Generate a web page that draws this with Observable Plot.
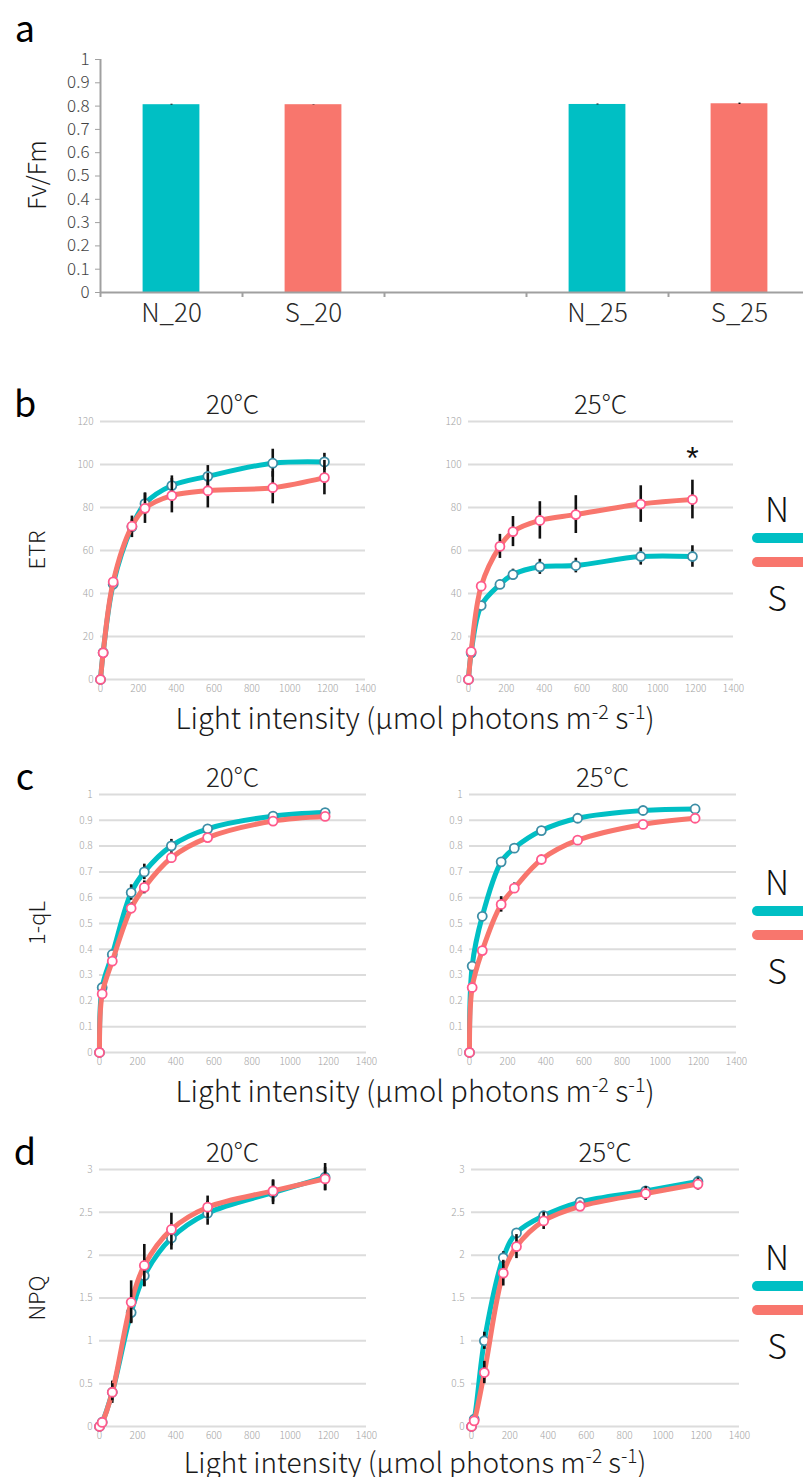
<!DOCTYPE html>
<html><head><meta charset="utf-8">
<script src="https://cdn.jsdelivr.net/npm/d3@7"></script>
<script src="https://cdn.jsdelivr.net/npm/@observablehq/plot@0.6"></script>
<style>
html,body{margin:0;padding:0;background:#fff;overflow:hidden;}
#root{position:relative;width:803px;height:1477px;overflow:hidden;font-family:"Noto Sans CJK JP","Noto Sans",sans-serif;font-weight:300;color:#1a1a1a;}
.lbl{position:absolute;transform:translate(-50%,-50%);white-space:nowrap;line-height:1;}
.rot{transform:translate(-50%,-50%) rotate(-90deg);}
.sw{position:absolute;height:10px;border-radius:5px;width:70px;}
sup.s{font-size:0.68em;vertical-align:0.5em;line-height:0;}
</style></head>
<body><div id="root"></div>
<script>
// ---------- data ----------
const fvCategories = ["N_20", "S_20", "", "N_25", "S_25"];
const fvGroups     = ["N", "S", null, "N", "S"];
const fvValues     = [0.806, 0.806, null, 0.807, 0.810];
const fvErrors     = [0.002, 0.001, null, 0.002, 0.003];
const fvTicks      = [0, 0.1, 0.2, 0.3, 0.4, 0.5, 0.6, 0.7, 0.8, 0.9, 1];

const lightIntensity = [0, 14, 67, 166, 235, 377, 567, 910, 1183];
const xTicks = [0, 200, 400, 600, 800, 1000, 1200, 1400];

const etr20N    = [0, 12.5, 44.3, 71.0, 81.8, 90.2, 94.5, 100.6, 101.2];
const etr20NErr = [0, 0.5, 1, 5, 5, 4.5, 5, 6.5, 4];
const etr20S    = [0, 12.4, 45.4, 71.3, 79.6, 85.5, 87.8, 89.2, 93.9];
const etr20SErr = [0, 0.5, 1, 3, 7, 8, 8, 7.5, 8];
const etr25N    = [0, 12.4, 34.4, 44.2, 48.8, 52.4, 53.0, 57.2, 57.2];
const etr25NErr = [0, 0.5, 1.5, 2, 2.5, 3.5, 3.4, 4, 5];
const etr25S    = [0, 13.0, 43.4, 61.9, 68.8, 74.0, 76.7, 81.6, 83.7];
const etr25SErr = [0, 0.5, 1.5, 5.6, 7, 8.7, 8.8, 8.5, 9];
const etr25Sig  = ["", "", "", "", "", "", "", "", "*"];
const etrTicks  = [0, 20, 40, 60, 80, 100, 120];

const ql20N    = [0, 0.252, 0.380, 0.620, 0.700, 0.801, 0.867, 0.916, 0.930];
const ql20NErr = [0, 0.005, 0.01, 0.03, 0.03, 0.025, 0.012, 0.008, 0.006];
const ql20S    = [0, 0.227, 0.354, 0.559, 0.640, 0.755, 0.833, 0.897, 0.915];
const ql20SErr = [0, 0.005, 0.008, 0.02, 0.025, 0.02, 0.008, 0.006, 0.005];
const ql25N    = [0, 0.335, 0.528, 0.739, 0.792, 0.860, 0.908, 0.938, 0.944];
const ql25NErr = [0, 0.005, 0.008, 0.008, 0.006, 0.005, 0.004, 0.004, 0.004];
const ql25S    = [0, 0.252, 0.395, 0.574, 0.637, 0.748, 0.823, 0.884, 0.908];
const ql25SErr = [0, 0.005, 0.008, 0.03, 0.02, 0.006, 0.005, 0.004, 0.004];
const qlTicks  = [0, 0.1, 0.2, 0.3, 0.4, 0.5, 0.6, 0.7, 0.8, 0.9, 1];

const npq20N    = [0, 0.05, 0.40, 1.33, 1.76, 2.20, 2.49, 2.73, 2.91];
const npq20NErr = [0, 0.01, 0.13, 0.12, 0.13, 0.14, 0.14, 0.14, 0.16];
const npq20S    = [0, 0.047, 0.40, 1.45, 1.88, 2.30, 2.56, 2.75, 2.89];
const npq20SErr = [0, 0.01, 0.10, 0.25, 0.245, 0.19, 0.13, 0.13, 0.135];
const npq25N    = [0, 0.085, 1.00, 1.97, 2.26, 2.46, 2.62, 2.75, 2.86];
const npq25NErr = [0, 0.02, 0.10, 0.07, 0.05, 0.04, 0.03, 0.05, 0.06];
const npq25S    = [0, 0.066, 0.63, 1.79, 2.10, 2.40, 2.57, 2.72, 2.83];
const npq25SErr = [0, 0.02, 0.13, 0.15, 0.14, 0.10, 0.06, 0.08, 0.07];
const npqTicks  = [0, 0.5, 1, 1.5, 2, 2.5, 3];

// ---------- style ----------
const FONT = `"Noto Sans CJK JP","Noto Sans",sans-serif`;
const TEAL = "#00BFC4", SALMON = "#F8766D";
const N_PT = "#3d8ea6", S_PT = "#ff5a8c";
const groupColor = {N: TEAL, S: SALMON};
const root = document.getElementById("root");

function place(svg, left, top) {
  svg.style.position = "absolute";
  svg.style.left = left + "px";
  svg.style.top = top + "px";
  root.appendChild(svg);
}
function label(html, x, y, size, extra = {}) {
  const d = document.createElement("div");
  d.className = "lbl" + (extra.rot ? " rot" : "");
  d.innerHTML = html;
  d.style.left = x + "px"; d.style.top = y + "px";
  d.style.fontSize = size + "px";
  if (extra.weight) d.style.fontWeight = extra.weight;
  if (extra.color) d.style.color = extra.color;
  root.appendChild(d);
}
function swatch(color, x, y) {
  const d = document.createElement("div");
  d.className = "sw";
  d.style.background = color;
  d.style.left = x + "px"; d.style.top = (y - 5) + "px";
  root.appendChild(d);
}

// ---------- panel a ----------
{
  const idx = fvCategories.map((c, i) => i).filter(i => fvValues[i] != null);
  const svg = Plot.plot({
    width: 810, height: 292,
    marginLeft: 100, marginRight: 0, marginTop: 19, marginBottom: 40,
    x: {domain: [0, fvCategories.length]},
    y: {domain: [0, 1]},
    style: {color: "#444", fontFamily: FONT, background: "transparent", overflow: "visible", maxWidth: "none"},
    marks: [
      Plot.rectY(idx, {x1: i => i + 0.3, x2: i => i + 0.7, y1: 0, y2: i => fvValues[i], fill: i => groupColor[fvGroups[i]]}),
      Plot.ruleX(idx, {x: i => i + 0.5, y1: i => fvValues[i] - fvErrors[i], y2: i => fvValues[i] + fvErrors[i], stroke: "#111", strokeWidth: 2}),
      Plot.ruleY([0], {stroke: "#a0a0a0", strokeWidth: 2}),
      Plot.ruleX([0], {stroke: "#a0a0a0", strokeWidth: 2}),
      Plot.axisY({ticks: fvTicks, tickSize: 5, tickPadding: 6, fontSize: 17, stroke: "#a0a0a0", fill: "#444", tickFormat: d => `${d}`, label: null}),
      Plot.axisX({ticks: d3.range(fvCategories.length + 1), tickSize: 5, stroke: "#a0a0a0", strokeWidth: 2, tickFormat: () => "", label: null}),
      Plot.axisX({ticks: fvCategories.map((c, i) => i + 0.5), tickSize: 0, tickPadding: 11, fontSize: 26, fill: "#2a2a2a", fontWeight: 300, tickFormat: d => fvCategories[Math.floor(d)], label: null})
    ]
  });
  place(svg, 0, 40);
  label("a", 25, 26, 36, {weight: 400, color: "#000"});
  label("Fv/Fm", 35, 175, 25, {rot: true});
}

// ---------- line panels ----------
function linePanel(cfg) {
  const ML = 40, MR = 20, MT = 12, MB = 24;
  const W = ML + (cfg.x1 - cfg.x0) + MR;
  const H = MT + (cfg.y1 - cfg.y0) + MB;
  const rows = lightIntensity.map((x, i) => ({
    x, n: cfg.n[i], ne: cfg.ne[i], s: cfg.s[i], se: cfg.se[i], star: cfg.sig ? cfg.sig[i] : ""
  }));
  const svg = Plot.plot({
    width: W, height: H, marginLeft: ML, marginRight: MR, marginTop: MT, marginBottom: MB,
    x: {domain: [0, 1400]}, y: {domain: cfg.yDomain},
    style: {color: "#a3a3a3", fontFamily: FONT, fontSize: "10px", background: "transparent", overflow: "visible", maxWidth: "none"},
    marks: [
      Plot.gridY({ticks: cfg.yTicks, stroke: "#dcdcdc", strokeOpacity: 1, strokeWidth: 2}),
      Plot.axisY({ticks: cfg.yTicks, tickSize: 0, tickPadding: 7, tickFormat: d => `${d}`, label: null}),
      Plot.axisX({ticks: xTicks, tickSize: 0, tickPadding: 5, tickFormat: d => `${d}`, label: null}),
      Plot.line(rows, {x: "x", y: "n", stroke: TEAL, strokeWidth: 5, curve: "catmull-rom"}),
      Plot.ruleX(rows, {x: "x", y1: d => d.n - d.ne, y2: d => d.n + d.ne, stroke: "#111", strokeWidth: 2.6}),
      Plot.dot(rows, {x: "x", y: "n", r: 4.5, fill: "white", stroke: N_PT, strokeWidth: 1.8}),
      Plot.line(rows, {x: "x", y: "s", stroke: SALMON, strokeWidth: 5, curve: "catmull-rom"}),
      Plot.ruleX(rows, {x: "x", y1: d => d.s - d.se, y2: d => d.s + d.se, stroke: "#111", strokeWidth: 2.6}),
      Plot.dot(rows, {x: "x", y: "s", r: 4.5, fill: "white", stroke: S_PT, strokeWidth: 1.8}),
      Plot.text(rows.filter(d => d.star), {x: "x", y: d => d.s + d.se, text: "star", dy: -21, fill: "#111", fontSize: 32, fontFamily: "Liberation Sans", fontWeight: 400})
    ]
  });
  place(svg, cfg.x0 - ML, cfg.y0 - MT);
  label(cfg.title, (cfg.x0 + cfg.x1) / 2, cfg.y0 - 18, 26, {color: "#222"});
}

const axisTitle = `Light intensity (μmol photons m<sup class="s">-2</sup> s<sup class="s">-1</sup>)`;

function row(r) {
  linePanel({x0: r.lx0, x1: r.lx1, y0: r.y0, y1: r.y1, yDomain: r.yDomain, yTicks: r.yTicks,
    n: r.n20, ne: r.n20e, s: r.s20, se: r.s20e, title: "20°C"});
  linePanel({x0: r.rx0, x1: r.rx1, y0: r.y0, y1: r.y1, yDomain: r.yDomain, yTicks: r.yTicks,
    n: r.n25, ne: r.n25e, s: r.s25, se: r.s25e, sig: r.sig, title: "25°C"});
  label(r.letter, 25, r.y0 - 20, 36, {weight: 400, color: "#000"});
  label(r.ylabel, 35, (r.y0 + r.y1) / 2, 22, {rot: true});
  label(axisTitle, 415, r.y1 + r.labelGap, r.labelSize, {color: "#1a1a1a"});
  // legend
  const mid = (r.y0 + r.y1) / 2;
  label("N", 777, mid - 42, 34, {color: "#111"});
  swatch(TEAL, 752, mid - 12);
  swatch(SALMON, 752, mid + 12);
  label("S", 777, mid + 47, 34, {color: "#111"});
}

row({letter: "b", ylabel: "ETR", lx0: 100, lx1: 365, rx0: 468, rx1: 733, y0: 421, y1: 679, labelGap: 37, labelSize: 29,
  yDomain: [0, 120], yTicks: etrTicks,
  n20: etr20N, n20e: etr20NErr, s20: etr20S, s20e: etr20SErr,
  n25: etr25N, n25e: etr25NErr, s25: etr25S, s25e: etr25SErr, sig: etr25Sig});
row({letter: "c", ylabel: "1-qL", lx0: 99, lx1: 366, rx0: 469, rx1: 736, y0: 794, y1: 1052, labelGap: 37, labelSize: 29,
  yDomain: [0, 1], yTicks: qlTicks,
  n20: ql20N, n20e: ql20NErr, s20: ql20S, s20e: ql20SErr,
  n25: ql25N, n25e: ql25NErr, s25: ql25S, s25e: ql25SErr});
row({letter: "d", ylabel: "NPQ", lx0: 99, lx1: 366, rx0: 471, rx1: 739, y0: 1169, y1: 1426, labelGap: 35, labelSize: 28,
  yDomain: [0, 3], yTicks: npqTicks,
  n20: npq20N, n20e: npq20NErr, s20: npq20S, s20e: npq20SErr,
  n25: npq25N, n25e: npq25NErr, s25: npq25S, s25e: npq25SErr});
</script>
</body></html>
